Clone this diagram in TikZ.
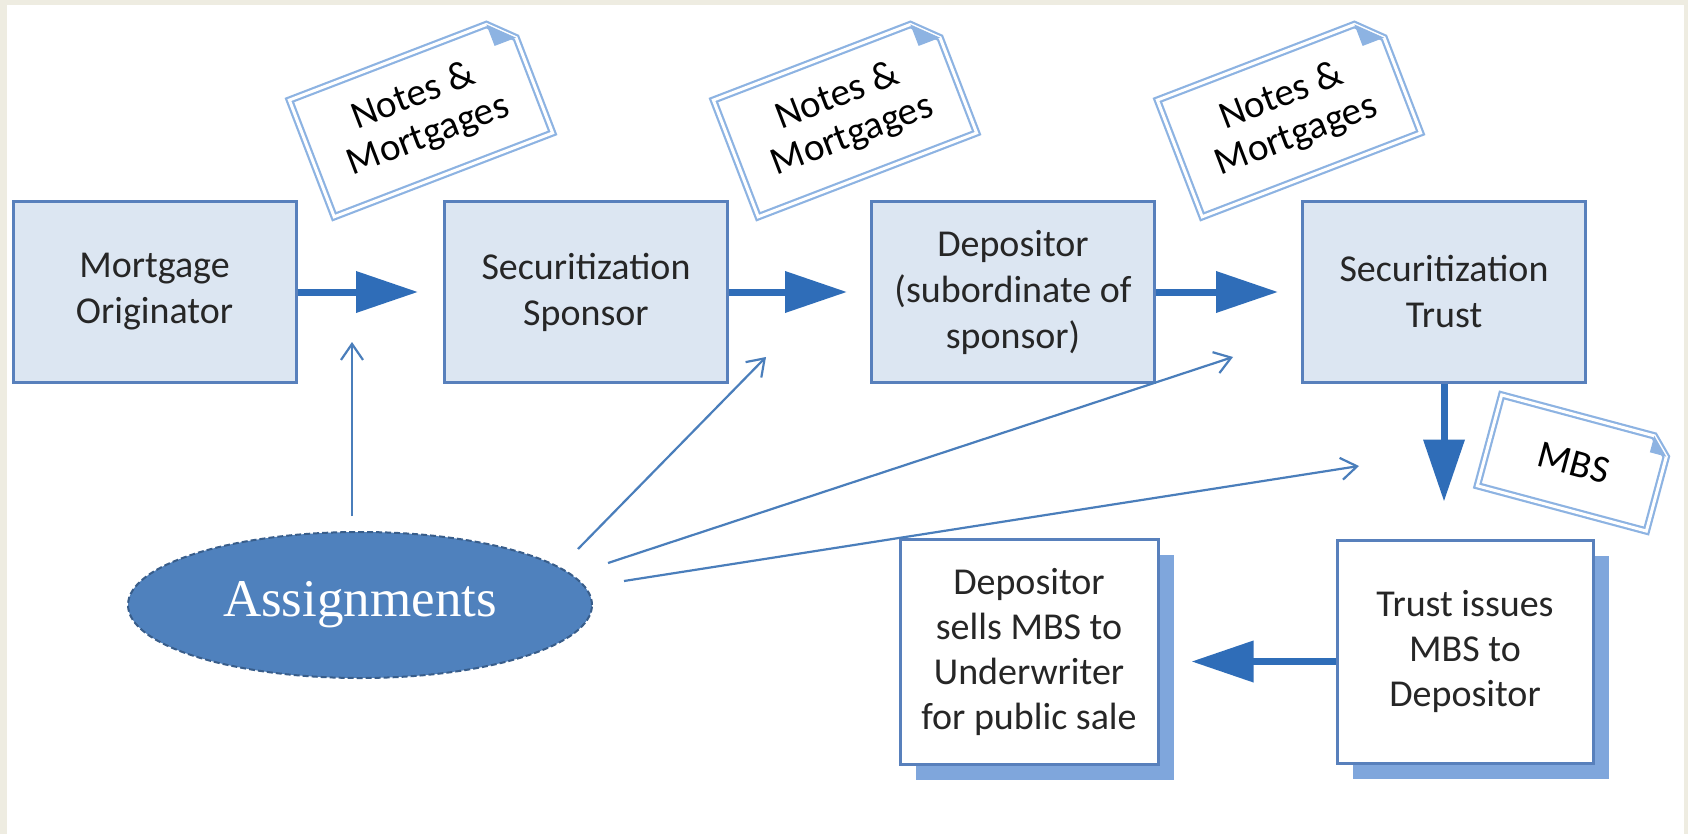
\documentclass[tikz,border=0pt]{standalone}
\usepackage{fontspec}
\setmainfont{Carlito}
\newfontfamily\ellipsefont{Liberation Serif}
\usetikzlibrary{arrows.meta,shapes.geometric,shadows}

\definecolor{pagetan}{HTML}{EEECE1}
\definecolor{boxfill}{HTML}{DCE6F2}
\definecolor{boxline}{HTML}{5880BC}
\definecolor{boxtext}{HTML}{262626}
\definecolor{shadowblue}{HTML}{7FA6DC}
\definecolor{flowblue}{HTML}{2F6DB8}
\definecolor{linkblue}{HTML}{4A7EBB}
\definecolor{notelight}{HTML}{8DB3E2}
\definecolor{assignfill}{HTML}{4F81BD}
\definecolor{assignline}{HTML}{385D8A}

\tikzset{
  party/.style={draw=boxline, line width=3pt, fill=boxfill, text=boxtext,
    minimum width=283pt, minimum height=180pt, align=center,
    font=\fontsize{38}{46}\selectfont},
  issuebox/.style={draw=boxline, line width=3pt, fill=white, text=boxtext,
    align=center, font=\fontsize{38}{45}\selectfont,
    drop shadow={shadow xshift=16pt, shadow yshift=-16pt, fill=shadowblue, opacity=1}},
  flow/.style={line width=7pt, draw=flowblue, -{Triangle[length=62pt,width=40pt]}},
  link/.style={line width=2.2pt, draw=linkblue, -{Straight Barb[length=16pt,width=22pt]}},
  notepaper/.style={draw=notelight, double=white, line width=2.2pt,
    double distance=3pt, fill=white},
  notefold/.style={fill=notelight},
  notetext/.style={align=center, inner sep=0pt, font=\fontsize{39}{42}\selectfont},
  assignment/.style={ellipse, draw=assignline, dash pattern=on 6pt off 3pt,
    line width=2pt, fill=assignfill, text=white, inner sep=0pt,
    minimum width=464pt, minimum height=146pt,
    font=\ellipsefont\fontsize{53}{60}\selectfont}
}

% name, centre, angle, width, height, fold, text
\newcommand{\notecard}[7]{%
  \begin{scope}[shift={#2}, rotate=#3]
    \draw[notepaper] (-#4/2,-#5/2) -- (#4/2,-#5/2) -- (#4/2,#5/2-#6)
      -- (#4/2-#6,#5/2) -- (-#4/2,#5/2) -- cycle;
    \fill[notefold] (#4/2-#6,#5/2) -- (#4/2,#5/2-#6) -- (#4/2-#6,#5/2-#6) -- cycle;
    \node[notetext, rotate=#3] (#1) at (0,0) {#7};
  \end{scope}}

\begin{document}
\begin{tikzpicture}[x=1pt,y=1pt]

	\useasboundingbox (0,0) rectangle (1688,-834);
	\fill[pagetan] (0,0) rectangle (1688,-834);
	\fill[white] (7,-5) rectangle (1684,-834);

	\notecard{notes1}{(421,-116.5)}{21}{234}{125}{23}{Notes \&\\Mortgages}
	\notecard{notes2}{(845,-116.5)}{21}{234}{125}{23}{Notes \&\\Mortgages}
	\notecard{notes3}{(1289,-116.5)}{21}{234}{125}{23}{Notes \&\\Mortgages}
	\notecard{mbs}{(1574,-463)}{-15}{175}{94}{17}{MBS}

	\node[party] (originator) at (154.5,-292) {Mortgage\\Originator};
	\node[party] (sponsor) at (586,-292) {Securitization\\Sponsor};
	\node[party] (depositor) at (1013,-292) {Depositor\\(subordinate of\\sponsor)};
	\node[party] (trust) at (1444,-292) {Securitization\\Trust};

	\node[issuebox, minimum width=256pt, minimum height=223pt] (issue) at (1465,-651.5) {Trust issues\\MBS to\\Depositor};
	\node[issuebox, minimum width=258pt, minimum height=225pt] (sale) at (1029,-651.5) {Depositor\\sells MBS to\\Underwriter\\for public sale};

	\draw[flow, shorten >=25pt] (originator) -- (sponsor);
	\draw[flow, shorten >=23pt] (sponsor) -- (depositor);
	\draw[flow, shorten >=23pt] (depositor) -- (trust);
	\draw[flow, shorten >=37pt] (trust.south) -- (trust.south |- issue.north);
	\draw[flow, shorten >=32pt] ([yshift=-10pt]issue.west) -- ([yshift=-10pt]sale.east);

	\node[assignment] (assign) at (360,-605) {Assignments};

	\coordinate (hit1) at (352,-342);
	\coordinate (hit2) at (766,-357);
	\coordinate (hit3) at (1233,-357);
	\coordinate (hit4) at (1359,-466);

	\draw[link] ([shift={(-8,89)}]assign.center) -- (hit1);
	\draw[link] ([shift={(218,56)}]assign.center) -- (hit2);
	\draw[link] ([shift={(248,42)}]assign.center) -- (hit3);
	\draw[link] ([shift={(264,24)}]assign.center) -- (hit4);

\end{tikzpicture}
\end{document}
